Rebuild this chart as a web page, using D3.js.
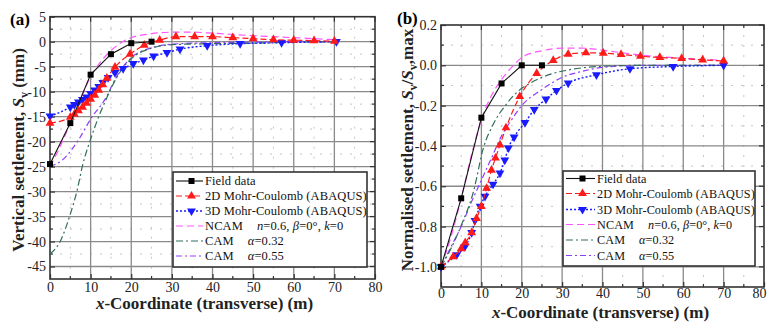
<!DOCTYPE html>
<html><head><meta charset="utf-8">
<script src="https://cdn.jsdelivr.net/npm/d3@7"></script>
<style>
html,body{margin:0;padding:0;background:#fff;}
svg{display:block;font-family:"Liberation Serif","Times New Roman",serif;}
</style></head>
<body>
<svg id="c" width="767" height="322"></svg>
<script>
// ---------- DATA ----------
const xTicks = [0,10,20,30,40,50,60,70,80];
const yTicksA = [5,0,-5,-10,-15,-20,-25,-30,-35,-40,-45];
const yTicksB = [0.2,0.0,-0.2,-0.4,-0.6,-0.8,-1.0];
const yTickLabelsB = ["0.2","0.0","-0.2","-0.4","-0.6","-0.8","-1.0"];

const legendNames = ["Field data","2D Mohr-Coulomb (ABAQUS)","3D Mohr-Coulomb (ABAQUS)","NCAM","CAM","CAM"];

// panel (a): vertical settlement (mm)
const fieldA = [[0,-24.5],[5,-16.3],[10,-6.6],[15,-2.5],[20,-0.3],[25,0]];
const mc2dA = [[0,-16.3],[5,-15.1],[6,-14.5],[7,-13.8],[8,-13.1],[9,-12.3],[10,-11.5],[11,-10.7],[12,-9.7],[13,-8.6],[14,-7.3],[16,-5.1],[19.7,-2.5],[23.2,-0.7],[27,0.3],[31,1.0],[35.6,1.0],[40,1.0],[45,0.8],[50,0.6],[55,0.4],[60,0.3],[65,0.2],[70,0.1]];
const mc3dA = [[0,-14.9],[5,-13.1],[6,-12.6],[7,-12.1],[8,-11.6],[9,-11.1],[10,-10.4],[11,-9.7],[12,-9.0],[13,-8.2],[14.3,-7.2],[16,-6.2],[18,-5.4],[20.5,-4.4],[23,-3.7],[25.5,-2.9],[28.8,-2.2],[32,-1.5],[38.7,-0.8],[46.8,-0.4],[57,-0.2],[70.5,0]];
const ncamA = [[0,-25],[2.5,-21],[5,-16.3],[7.5,-11.5],[10,-7],[12.5,-4],[15,-1.8],[17.5,-0.2],[20,0.8],[25,1.6],[30,1.9],[35,1.9],[40,1.7],[50,1.2],[60,0.8],[70,0.4]];
const cam032A = [[0,-42.5],[2.5,-40],[5,-34.5],[6.6,-30],[8.1,-24.5],[10,-19.5],[12,-15],[14,-11.2],[16,-7.8],[18,-5.2],[20,-3.4],[25,-1.3],[30,-0.6],[40,-0.4],[50,-0.3],[60,-0.1],[70,0]];
const cam055A = [[0,-25],[3.3,-23.5],[6.9,-19.8],[10.3,-15.1],[13.5,-11.6],[16,-7.6],[18,-5],[20,-3.2],[25,-1.2],[30,-0.5],[40,-0.2],[50,-0.1],[60,0],[70,0]];

// panel (b): normalised settlement
const fieldB = [[0,-1.0],[5,-0.66],[10,-0.26],[15,-0.09],[20,0],[25,0]];
const mc2dB = [[0,-1.0],[3,-0.95],[5,-0.91],[6,-0.88],[7.6,-0.83],[8.8,-0.76],[10,-0.70],[11.3,-0.61],[12.5,-0.52],[13.5,-0.46],[14.6,-0.395],[16.1,-0.31],[19.5,-0.155],[23.7,-0.04],[27.8,0.024],[31.5,0.055],[35.9,0.062],[40.2,0.06],[44.6,0.054],[49.4,0.045],[54.2,0.039],[59.6,0.034],[64.8,0.027],[70,0.022]];
const mc3dB = [[0,-1.0],[3.9,-0.94],[5.9,-0.9],[7.6,-0.83],[8.4,-0.77],[9.7,-0.7],[10.9,-0.65],[12.9,-0.59],[14.6,-0.535],[15.8,-0.47],[16.7,-0.41],[18.1,-0.356],[20.8,-0.284],[23.1,-0.22],[26,-0.168],[28.6,-0.125],[31.5,-0.088],[38.5,-0.047],[46.8,-0.017],[57.5,-0.006],[70,0]];
const ncamB = [[0,-1.0],[2.5,-0.85],[5,-0.66],[7.5,-0.45],[10,-0.27],[12.5,-0.15],[15,-0.07],[17.5,-0.01],[20.4,0.044],[25,0.072],[30,0.085],[35,0.085],[40,0.075],[45,0.062],[50,0.05],[60,0.035],[70,0.025]];
const cam032B = [[0,-1.0],[2.2,-0.92],[5.1,-0.79],[8,-0.63],[10.5,-0.41],[13,-0.29],[16.3,-0.19],[19,-0.13],[22,-0.09],[27.8,-0.04],[31,-0.025],[40,-0.005],[50,0],[60,0],[70,0]];
const cam055B = [[0,-1.0],[2.5,-0.9],[5,-0.8],[7.5,-0.68],[10,-0.57],[12.5,-0.46],[15,-0.35],[17.5,-0.27],[20,-0.2],[25,-0.12],[30,-0.06],[35,-0.03],[40,-0.01],[50,0],[60,0],[70,0]];

// ---------- DRAW ----------
const svg = d3.select("#c");

const styles = [
  {color:"#111", dash:null, width:1.1, marker:"square", curve:d3.curveLinear},
  {color:"#ff1a1a", dash:"6,3", width:1.2, marker:"triUp", curve:d3.curveMonotoneX},
  {color:"#1a1aff", dash:"2,2", width:1.4, marker:"triDown", curve:d3.curveMonotoneX},
  {color:"#ff55ff", dash:"7,4", width:1.2, marker:null, curve:d3.curveMonotoneX},
  {color:"#2f6e5c", dash:"7,3,2,3", width:1.2, marker:null, curve:d3.curveMonotoneX},
  {color:"#8f3cff", dash:"6,3,2,3", width:1.2, marker:null, curve:d3.curveMonotoneX}
];

function drawMarker(g, type, x, y, color){
  if(type==="square"){
    g.append("rect").attr("x",x-3).attr("y",y-3).attr("width",6).attr("height",6).attr("fill",color);
  } else if(type==="triUp"){
    const p = d3.symbol().type(d3.symbolTriangle).size(34)();
    g.append("path").attr("d",p).attr("transform",`translate(${x},${y})`).attr("fill",color);
  } else if(type==="triDown"){
    const p = d3.symbol().type(d3.symbolTriangle).size(34)();
    g.append("path").attr("d",p).attr("transform",`translate(${x},${y}) rotate(180)`).attr("fill",color);
  }
}

function panel(cfg){
  const g = svg.append("g");
  const x = d3.scaleLinear().domain([0,80]).range(cfg.xr);
  const y = d3.scaleLinear().domain(cfg.yd).range(cfg.yr);
  const [x0,x1] = cfg.xr;
  const yB = cfg.yr[0], yT = cfg.yr[1];

  // minor grid (dotted)
  const minorX = xTicks.slice(0,-1).map(v=>v+5);
  const step = cfg.yTicks[0]-cfg.yTicks[1];
  const minorY = cfg.yTicks.map(v=>v-step/2).concat([cfg.yTicks[0]+step/2]).filter(v=>v>cfg.yd[0]+1e-9 && v<cfg.yd[1]-1e-9);
  g.selectAll(".mgx").data(minorX).join("line")
    .attr("x1",d=>x(d)).attr("x2",d=>x(d)).attr("y1",yT).attr("y2",yB)
    .attr("stroke","#c4c4c4").attr("stroke-width",1).attr("stroke-dasharray","2,8");
  g.selectAll(".mgy").data(minorY).join("line")
    .attr("x1",x0).attr("x2",x1).attr("y1",d=>y(d)).attr("y2",d=>y(d))
    .attr("stroke","#c4c4c4").attr("stroke-width",1).attr("stroke-dasharray","2,8");
  // major grid
  g.selectAll(".gx").data(xTicks.slice(1,-1)).join("line")
    .attr("x1",d=>x(d)).attr("x2",d=>x(d)).attr("y1",yT).attr("y2",yB)
    .attr("stroke","#8a8a8a").attr("stroke-width",1.3);
  g.selectAll(".gy").data(cfg.yTicks.filter(v=>v<cfg.yd[1]-1e-9 && v>cfg.yd[0]+1e-9)).join("line")
    .attr("x1",x0).attr("x2",x1).attr("y1",d=>y(d)).attr("y2",d=>y(d))
    .attr("stroke","#8a8a8a").attr("stroke-width",1.3);

  // axes with inward ticks
  const ax = g.append("g").attr("transform",`translate(0,${yB})`)
    .call(d3.axisBottom(x).tickValues(xTicks).tickSizeInner(-5).tickSizeOuter(0).tickPadding(cfg.xPad));
  const ay = g.append("g").attr("transform",`translate(${x0},0)`)
    .call(d3.axisLeft(y).tickValues(cfg.yTicks).tickFormat((d,i)=>cfg.yLabels[i]).tickSizeInner(-5).tickSizeOuter(0).tickPadding(4));
  [ax,ay].forEach(a=>{
    a.select(".domain").remove();
    a.selectAll(".tick line").attr("stroke","#333").attr("stroke-width",1.2);
    a.selectAll("text").attr("font-family","Liberation Serif").attr("font-size",14).attr("fill","#222");
  });
  if(cfg.lastTickEnd){
    ax.selectAll(".tick text").filter(d=>d===80).attr("text-anchor","end").attr("x",766-x1);
  }
  // top/right ticks and minor ticks
  const tk = g.append("g").attr("stroke","#333").attr("stroke-width",1.2);
  xTicks.forEach(v=>{ tk.append("line").attr("x1",x(v)).attr("x2",x(v)).attr("y1",yT).attr("y2",yT+5); });
  minorX.forEach(v=>{
    tk.append("line").attr("x1",x(v)).attr("x2",x(v)).attr("y1",yT).attr("y2",yT+3);
    tk.append("line").attr("x1",x(v)).attr("x2",x(v)).attr("y1",yB).attr("y2",yB-3);
  });
  cfg.yTicks.forEach(v=>{ tk.append("line").attr("x1",x1).attr("x2",x1-5).attr("y1",y(v)).attr("y2",y(v)); });
  minorY.forEach(v=>{
    tk.append("line").attr("x1",x1).attr("x2",x1-3).attr("y1",y(v)).attr("y2",y(v));
    tk.append("line").attr("x1",x0).attr("x2",x0+3).attr("y1",y(v)).attr("y2",y(v));
  });
  // frame
  g.append("rect").attr("x",x0).attr("y",yT).attr("width",x1-x0).attr("height",yB-yT)
    .attr("fill","none").attr("stroke","#333").attr("stroke-width",1.6);

  // series (draw back-to-front)
  const order = [5,4,3,2,1,0];
  order.forEach(i=>{
    const s = styles[i], d = cfg.series[i];
    const line = d3.line().x(p=>x(p[0])).y(p=>y(p[1])).curve(s.curve);
    g.append("path").attr("d",line(d)).attr("fill","none").attr("stroke",s.color)
      .attr("stroke-width",s.width).attr("stroke-dasharray",s.dash);
    if(s.marker){
      const mg = g.append("g");
      d.forEach(p=>drawMarker(mg,s.marker,x(p[0]),y(p[1]),s.color==="#111"?"#000":s.color));
    }
  });

  // legend
  const L = cfg.legend;
  const lg = g.append("g");
  lg.append("rect").attr("x",L.x).attr("y",L.y).attr("width",L.w).attr("height",L.h)
    .attr("fill","#fff").attr("stroke","#333").attr("stroke-width",1.6);
  legendNames.forEach((name,i)=>{
    const s = styles[i];
    const yy = L.rows[i];
    lg.append("line").attr("x1",L.x+3).attr("x2",L.tx-2).attr("y1",yy).attr("y2",yy)
      .attr("stroke",s.color).attr("stroke-width",s.width).attr("stroke-dasharray",s.dash);
    if(s.marker) drawMarker(lg,s.marker,(L.x+3+L.tx-2)/2+2,yy,s.color==="#111"?"#000":s.color);
    const t = lg.append("text").attr("x",L.tx).attr("y",yy+4)
      .attr("font-size",L.fs).attr("fill","#111").attr("letter-spacing",0.1);
    if(i===3){
      t.append("tspan").text("NCAM");
      t.append("tspan").attr("dx",14).attr("font-style","italic").text("n");
      t.append("tspan").text("=0.6, ");
      t.append("tspan").attr("font-style","italic").text("β");
      t.append("tspan").text("=0°, ");
      t.append("tspan").attr("font-style","italic").text("k");
      t.append("tspan").text("=0");
    } else if(i===4 || i===5){
      t.append("tspan").text("CAM");
      t.append("tspan").attr("dx",14).attr("font-style","italic").text("α");
      t.append("tspan").text(i===4?"=0.32":"=0.55");
    } else {
      t.text(name);
    }
  });

  // titles
  svg.append("text").attr("x",cfg.tag[0]).attr("y",cfg.tag[1]).attr("font-weight","bold")
    .attr("font-size",17).text(cfg.tagText);
  const xt = svg.append("text").attr("x",(x0+x1)/2 + cfg.xtOff).attr("y",cfg.xtY)
    .attr("text-anchor","middle").attr("font-weight","bold").attr("font-size",17).attr("fill","#222");
  xt.append("tspan").attr("font-style","italic").text("x");
  xt.append("tspan").text("-Coordinate (transverse) (m)");
  const yt = svg.append("text").attr("transform",`translate(${cfg.ytX},${cfg.ytY}) rotate(-90)`)
    .attr("text-anchor","middle").attr("font-weight","bold").attr("font-size",17).attr("fill","#222");
  cfg.yTitle(yt);
}

panel({
  xr:[50,375], yd:[-47.5,5], yr:[279,16.7], yTicks:yTicksA, yLabels:yTicksA.map(String), xPad:3,
  series:[fieldA,mc2dA,mc3dA,ncamA,cam032A,cam055A],
  legend:{x:173,y:172,w:194,h:95,tx:205,fs:12.5,rows:[181,196,211,226,241,256]},
  tag:[10,25], tagText:"(a)", xtOff:-8, xtY:309, ytX:24, ytY:150,
  yTitle:t=>{
    t.append("tspan").text("Vertical settlement, ");
    t.append("tspan").attr("font-style","italic").text("S");
    t.append("tspan").attr("font-size",12).attr("dy",4).text("v");
    t.append("tspan").attr("dy",-4).text(" (mm)");
  }
});
panel({
  xr:[441,764], yd:[-1.1,0.2], yr:[287,25], yTicks:yTicksB, yLabels:yTickLabelsB, xPad:1, lastTickEnd:true,
  series:[fieldB,mc2dB,mc3dB,ncamB,cam032B,cam055B],
  legend:{x:563,y:171,w:192,h:95,tx:597,fs:12.2,rows:[178.5,193.5,209.5,224.5,240,255.5]},
  tag:[397,24], tagText:"(b)", xtOff:-2, xtY:318, ytX:413, ytY:150,
  yTitle:t=>{
    t.append("tspan").text("Normalised settlement, ");
    t.append("tspan").attr("font-style","italic").text("S");
    t.append("tspan").attr("font-size",12).attr("dy",4).text("v");
    t.append("tspan").attr("dy",-4).text("/");
    t.append("tspan").attr("font-style","italic").text("S");
    t.append("tspan").attr("font-size",12).attr("dy",4).text("v");
    t.append("tspan").attr("dy",-4).text(",max");
  }
});
</script>
</body></html>
